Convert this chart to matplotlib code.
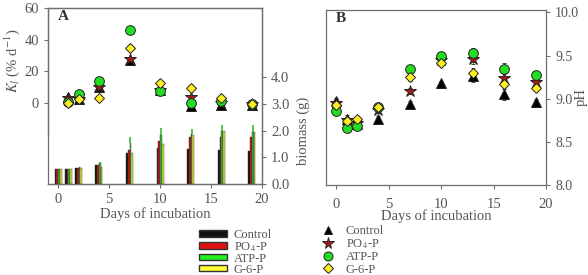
import numpy as np
import matplotlib
matplotlib.use("Agg")
import matplotlib.pyplot as plt
from matplotlib.patches import Patch
from matplotlib.lines import Line2D

# ==== DATA ==================================================

treatments = ["Control", "PO$_4$-P", "ATP-P", "G-6-P"]

# panel A, mineralisation rate K_l (% d-1)
days_ki = [1, 2, 4, 7, 10, 13, 16, 19]
ki_control = [4.0, 2.5, 10.0, 27.5, 8.0, -2.0, -1.0, -1.0]
ki_po4 = [3.0, 2.5, 10.0, 28.0, 8.0, 3.6, 0.0, -0.5]
ki_atp = [1.0, 6.0, 14.0, 46.0, 7.8, 0.0, 1.5, -0.5]
ki_g6p = [0.0, 2.5, 3.5, 35.0, 12.4, 9.3, 3.5, -0.5]

# panel A, biomass (g)
days_bio = [0, 1, 2, 4, 7, 10, 13, 16, 19]
bio_control = [0.55, 0.57, 0.60, 0.72, 1.17, 1.35, 1.31, 1.27, 1.25]
bio_po4 = [0.55, 0.57, 0.61, 0.72, 1.27, 1.63, 1.77, 1.77, 1.75]
bio_atp = [0.55, 0.57, 0.62, 0.78, 1.55, 1.85, 1.88, 1.98, 1.95]
bio_atp_err = [0.01, 0.01, 0.02, 0.03, 0.22, 0.24, 0.20, 0.22, 0.25]
bio_g6p = [0.55, 0.57, 0.61, 0.64, 1.18, 1.51, 1.84, 1.98, 1.96]

# panel B, pH
days_ph = [0, 1, 2, 4, 7, 10, 13, 16, 19]
ph_control = [8.98, 8.77, 8.71, 8.77, 8.94, 9.18, 9.26, 9.05, 8.96]
ph_po4 = [8.95, 8.75, 8.72, 8.87, 9.09, 9.45, 9.46, 9.24, 9.19]
ph_atp = [8.86, 8.66, 8.69, 8.90, 9.34, 9.49, 9.53, 9.35, 9.28]
ph_g6p = [8.93, 8.74, 8.76, 8.91, 9.25, 9.41, 9.30, 9.17, 9.13]
ph_err = [0.03, 0.04, 0.03, 0.03, 0.04, 0.03, 0.06, 0.06, 0.04]

# ============================================================

plt.rcParams["font.family"] = ["Liberation Serif", "DejaVu Serif"]
plt.rcParams["mathtext.fontset"] = "stix"

grey = "#6e6e6e"
txt = "#555555"
bar_cols = ["#111111", "#cc1111", "#33bb33", "#dddd44"]
mk_face = ["black", "#b01818", "#22dd22", "#ffee22"]
markers = ["^", "*", "o", "D"]
msizes = [6.5, 9, 7, 5.5]

fig = plt.figure(figsize=(5.88, 2.75), dpi=100)

# ---- panel A ----
ax = fig.add_axes([0.0816, 0.331, 0.364, 0.640])
ax2 = ax.twinx()

for i, ys in enumerate([ki_control, ki_po4, ki_atp, ki_g6p]):
    ax.errorbar(days_ki, ys, yerr=0.8, fmt=markers[i], ms=msizes[i],
                mfc=mk_face[i], mec="#222222", mew=0.7, ecolor="#222222",
                elinewidth=0.7, capsize=1.5, zorder=3)

ax.set_xlim(-1, 20)
ax.set_ylim(-51, 60)
ax.set_yticks([0, 20, 40, 60])
ax.set_xticks([0, 5, 10, 15, 20])
ax.spines["left"].set_bounds(-20, 60)
ax.set_ylabel("$K_l$ (% d$^{-1}$)", fontsize=10.5, color=txt)
ax.yaxis.set_label_coords(-0.12, 0.70)
ax.set_xlabel("Days of incubation", fontsize=10.5, color=txt, labelpad=1)
ax.text(0.045, 0.93, "A", transform=ax.transAxes, fontsize=11,
        fontweight="bold", color="#333333")

w = 0.17
for i, ys in enumerate([bio_control, bio_po4, bio_atp, bio_g6p]):
    x = np.array(days_bio) + (i - 1.5) * w
    ax2.bar(x, ys, width=w, color=bar_cols[i], edgecolor="#333333",
            linewidth=0.3, zorder=2)
ax2.errorbar(np.array(days_bio) + 0.5 * w, bio_atp, yerr=[np.zeros(len(bio_atp)), bio_atp_err],
             fmt="none", ecolor=bar_cols[2], elinewidth=1.2, capsize=0)
ax2.set_ylim(0, 6.6)
ax2.set_yticks([0, 1, 2, 3, 4])
ax2.set_yticklabels(["0.0", "1.0", "2.0", "3.0", "4.0"])
ax2.set_ylabel("biomass (g)", fontsize=10.5, color=txt)
ax2.yaxis.set_label_coords(1.16, 0.30)

for a in (ax, ax2):
    for s in a.spines.values():
        s.set_color(grey)
        s.set_linewidth(0.9)
    a.tick_params(colors=grey, labelcolor=txt, labelsize=10.5, length=3, width=0.8)

leg_a = [Patch(facecolor=bar_cols[0], edgecolor="#333333", label=treatments[0]),
         Patch(facecolor="#dd1111", edgecolor="#333333", label=treatments[1]),
         Patch(facecolor="#22ee22", edgecolor="#333333", label=treatments[2]),
         Patch(facecolor="#ffff33", edgecolor="#333333", label=treatments[3])]
fig.legend(handles=leg_a, loc="upper left", bbox_to_anchor=(0.327, 0.19),
           frameon=False, fontsize=9, handlelength=2.3, handleheight=0.4,
           labelspacing=-0.08, handletextpad=0.5, borderpad=0, labelcolor=txt)

# ---- panel B ----
bx = fig.add_axes([0.5544, 0.327, 0.3742, 0.637])
for i, ys in enumerate([ph_control, ph_po4, ph_atp, ph_g6p]):
    bx.errorbar(days_ph, ys, yerr=ph_err, fmt=markers[i], ms=msizes[i],
                mfc=mk_face[i], mec="#222222", mew=0.7, ecolor="#444444",
                elinewidth=0.7, capsize=1.5, zorder=3)
bx.set_xlim(-1, 20)
bx.set_ylim(8.0, 10.03)
bx.set_xticks([0, 5, 10, 15, 20])
bx.set_yticks([8.0, 8.5, 9.0, 9.5, 10.0])
bx.set_yticklabels(["8.0", "8.5", "9.0", "9.5", "10.0"])
bx.yaxis.tick_right()
bx.yaxis.set_label_position("right")
bx.set_ylabel("pH", fontsize=10.5, color=txt)
bx.yaxis.set_label_coords(1.13, 0.5)
bx.set_xlabel("Days of incubation", fontsize=10.5, color=txt, labelpad=-1)
bx.text(0.045, 0.93, "B", transform=bx.transAxes, fontsize=11,
        fontweight="bold", color="#333333")
for s in bx.spines.values():
    s.set_color(grey)
    s.set_linewidth(0.9)
bx.tick_params(colors=grey, labelcolor=txt, labelsize=10.5, length=3, width=0.8)
bx.tick_params(axis="y", labelsize=10)
bx.tick_params(axis="x", pad=6)

leg_b = [Line2D([], [], ls="none", marker=markers[i], ms=msizes[i] - 0.5,
                mfc=mk_face[i], mec="#222222", mew=0.7, label=treatments[i])
         for i in range(4)]
fig.legend(handles=leg_b, loc="upper left", bbox_to_anchor=(0.537, 0.205),
           frameon=False, fontsize=9, handlelength=1.0,
           labelspacing=0.03, handletextpad=0.9, borderpad=0, labelcolor=txt)

fig.savefig("out.png", dpi=100)
